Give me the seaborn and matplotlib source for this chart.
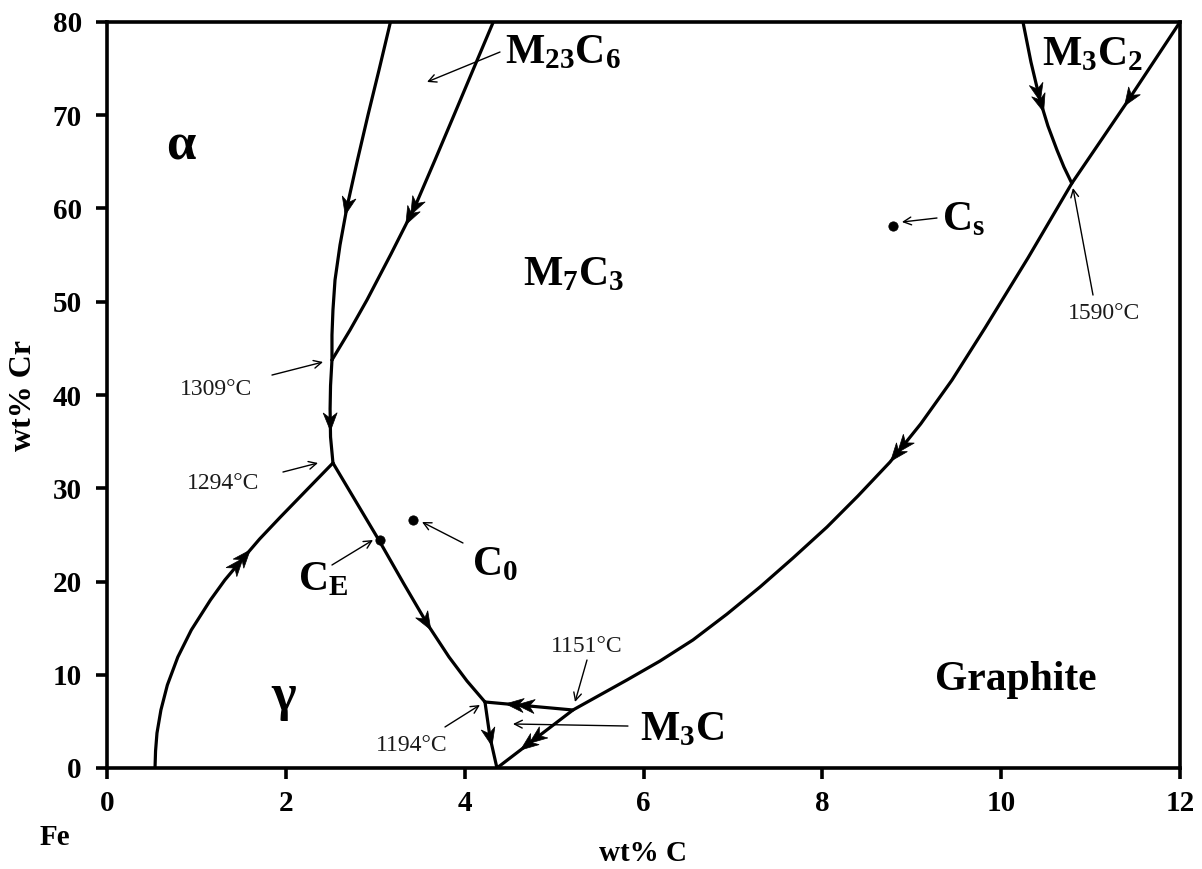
import numpy as np
import seaborn as sns
import matplotlib.pyplot as plt
from matplotlib.patches import Polygon

# Fe-Cr-C liquidus projection: monovariant valleys (wt% C, wt% Cr),
# each listed in the direction of falling temperature.
gamma_alpha_c = [0.537, 0.543, 0.559, 0.603, 0.675, 0.792, 0.943, 1.157, 1.318,
                 1.506, 1.707, 1.940, 2.255, 2.527]
gamma_alpha_cr = [0.0, 1.82, 3.75, 6.22, 8.90, 11.90, 14.80, 18.02, 20.16,
                  22.31, 24.56, 26.92, 30.03, 32.71]

alpha_m7_c = [2.516, 2.50, 2.495, 2.50, 2.527]
alpha_m7_cr = [43.75, 41.0, 38.5, 35.5, 32.71]

alpha_m23_c = [3.17, 3.042, 2.919, 2.796, 2.684, 2.606, 2.550, 2.527, 2.516, 2.516]
alpha_m23_cr = [80.0, 74.85, 70.03, 64.99, 60.16, 56.09, 52.33, 49.12, 46.43, 43.75]

m23_m7_c = [4.32, 4.093, 3.88, 3.668, 3.444, 3.176, 2.908, 2.718, 2.516]
m23_m7_cr = [80.0, 74.85, 70.0, 65.2, 60.2, 55.12, 50.2, 46.97, 43.75]

gamma_m7_c = [2.527, 3.04, 3.321, 3.590, 3.825, 4.026, 4.227]
gamma_m7_cr = [32.71, 24.45, 19.73, 15.33, 11.90, 9.33, 7.08]

m3c_m7_c = [5.211, 4.227]
m3c_m7_cr = [6.22, 7.08]

gamma_m3c_c = [4.227, 4.283, 4.361]
gamma_m3c_cr = [7.08, 3.32, 0.0]

graphite_c = [12.0, 11.40, 10.79, 10.30, 9.82, 9.45, 9.10, 8.756, 8.398, 8.052, 7.672,
              7.303, 6.934, 6.553, 6.184, 5.815, 5.513, 5.211, 4.361]
graphite_cr = [80.0, 71.3, 62.7, 54.7, 47.2, 41.6, 36.9, 32.8, 29.17, 25.84, 22.52,
               19.41, 16.51, 13.73, 11.47, 9.44, 7.83, 6.22, 0.0]

m3c2_m7_c = [10.244, 10.333, 10.434, 10.523, 10.624, 10.702, 10.79]
m3c2_m7_cr = [80.0, 75.71, 71.64, 68.85, 66.27, 64.45, 62.7]

# alloy compositions marked with dots
point_names = ["C_E", "C_0", "C_s"]
point_c = [3.05, 3.42, 8.79]
point_cr = [24.45, 26.6, 58.1]

# invariant temperatures
inv_labels = ["1309°C", "1294°C", "1194°C", "1151°C", "1590°C"]

x_ticks = [0, 2, 4, 6, 8, 10, 12]
y_ticks = [0, 10, 20, 30, 40, 50, 60, 70, 80]

sns.set_theme(style="white")
plt.rcParams["font.family"] = ["Liberation Serif", "DejaVu Serif"]
plt.rcParams["text.color"] = "black"
plt.rcParams["axes.labelcolor"] = "black"
plt.rcParams["mathtext.fontset"] = "custom"
plt.rcParams["mathtext.rm"] = "Liberation Serif:bold"
plt.rcParams["mathtext.it"] = "Liberation Serif:italic:bold"
plt.rcParams["mathtext.bf"] = "Liberation Serif:bold"

fig = plt.figure(figsize=(12.02, 8.69), dpi=100)
ax = fig.add_subplot(111)
fig.subplots_adjust(left=107 / 1202, right=1180 / 1202, bottom=(869 - 768) / 869, top=(869 - 22) / 869)
ax.set_xlim(0, 12)
ax.set_ylim(0, 80)

curves = [
    (gamma_alpha_c, gamma_alpha_cr, [(0.63, 2)]),
    (alpha_m7_c, alpha_m7_cr, [(0.60, 1)]),
    (alpha_m23_c, alpha_m23_cr, [(0.55, 1)]),
    (m23_m7_c, m23_m7_cr, [(0.55, 2)]),
    (gamma_m7_c, gamma_m7_cr, [(0.65, 1)]),
    (m3c_m7_c, m3c_m7_cr, [(0.60, 2)]),
    (gamma_m3c_c, gamma_m3c_cr, [(0.53, 1)]),
    (graphite_c, graphite_cr, [(0.089, 1), (0.498, 2), (0.957, 2)]),
    (m3c2_m7_c, m3c2_m7_cr, [(0.46, 2)]),
]


def arrowheads(ax, xs, ys, frac, n, length=18.0, width=14.0, gap=11.0):
    """Filled notched arrowheads sitting on a polyline, pointing along it."""
    pts = ax.transData.transform(np.column_stack([xs, ys]))
    seg = np.diff(pts, axis=0)
    seglen = np.hypot(seg[:, 0], seg[:, 1])
    cum = np.concatenate([[0.0], np.cumsum(seglen)])
    total = cum[-1]
    inv = ax.transData.inverted()
    for k in range(n):
        s = frac * total + (k - (n - 1) / 2.0) * gap
        i = int(np.clip(np.searchsorted(cum, s) - 1, 0, len(seglen) - 1))
        t = (s - cum[i]) / seglen[i]
        p = pts[i] + t * seg[i]
        d = seg[i] / seglen[i]
        nrm = np.array([-d[1], d[0]])
        tip = p + d * length / 2
        back = p - d * length / 2
        verts = np.array([tip,
                          back + nrm * width / 2,
                          back + d * length * 0.3,
                          back - nrm * width / 2])
        ax.add_patch(Polygon(inv.transform(verts), closed=True,
                             facecolor="black", edgecolor="black", lw=0.5, zorder=4))


for xs, ys, arrows in curves:
    sns.lineplot(x=xs, y=ys, sort=False, estimator=None, color="black",
                 lw=2.3, ax=ax, legend=False)
    for frac, n in arrows:
        arrowheads(ax, xs, ys, frac, n)

sns.scatterplot(x=point_c, y=point_cr, color="black", s=45, edgecolor="black",
                ax=ax, legend=False, zorder=5)

# axes frame, ticks and labels
for side in ["left", "right", "top", "bottom"]:
    ax.spines[side].set_visible(True)
    ax.spines[side].set_color("black")
    ax.spines[side].set_linewidth(2.6)
ax.set_xticks(x_ticks)
ax.set_yticks(y_ticks)
ax.tick_params(axis="both", which="both", direction="out", length=8, width=2.6,
               color="black", labelsize=21, labelcolor="black",
               bottom=True, left=True, top=False, right=False)
ax.tick_params(axis="x", pad=8)
ax.tick_params(axis="y", pad=10)
for lab in ax.get_xticklabels() + ax.get_yticklabels():
    lab.set_fontweight("bold")
ax.grid(False)

ax.set_xlabel("wt% C", fontsize=21, fontweight="bold")
ax.set_ylabel("wt% Cr", fontsize=23, fontweight="bold")
ax.xaxis.set_label_coords(0.4995, -0.097)
ax.yaxis.set_label_coords(-0.064, 0.5)
ax.text(-0.0485, -0.0925, "Fe", transform=ax.transAxes, fontsize=21,
        fontweight="bold", ha="center", va="center")

# phase-field labels
big = dict(fontsize=30, fontweight="bold")
ax.text(0.82, 66.6, "α", ha="center", va="center", fontsize=38, fontweight="bold")
ax.text(1.97, 7.6, "γ", ha="center", va="center", fontsize=38, fontweight="bold")
ax.text(4.45, 75.6, r"M$_{\mathrm{23}}$C$_{\mathrm{6}}$", ha="left", va="baseline", **big)
ax.text(4.652, 51.8, r"M$_{\mathrm{7}}$C$_{\mathrm{3}}$", ha="left", va="baseline", **big)
ax.text(10.455, 75.4, r"M$_{\mathrm{3}}$C$_{\mathrm{2}}$", ha="left", va="baseline", **big)
ax.text(5.961, 3.0, r"M$_{\mathrm{3}}$C", ha="left", va="baseline", **big)
ax.text(10.165, 8.36, "Graphite", ha="center", va="baseline", **big)

# composition labels
ax.text(2.136, 19.09, r"C$_{\mathrm{E}}$", ha="left", va="baseline", **big)
ax.text(4.082, 20.7, r"C$_{\mathrm{0}}$", ha="left", va="baseline", **big)
ax.text(9.338, 57.7, r"C$_{\mathrm{s}}$", ha="left", va="baseline", **big)

# invariant temperatures
temp_pos = [(1.219, 40.54), (1.297, 30.56), (3.411, 2.36), (5.368, 12.98), (11.15, 48.79)]
for lab, (tx, ty) in zip(inv_labels, temp_pos):
    ax.text(tx, ty, lab, ha="center", va="center", fontsize=17, color="#1a1a1a")

# leader arrows
leaders = [
    ((4.395, 76.78), (3.579, 73.57)),
    ((9.282, 58.98), (8.890, 58.55)),
    ((11.027, 50.72), (10.803, 62.20)),
    ((1.845, 42.14), (2.416, 43.54)),
    ((1.968, 31.74), (2.360, 32.71)),
    ((2.516, 21.77), (2.975, 24.45)),
    ((3.981, 24.13), (3.523, 26.38)),
    ((5.368, 11.58), (5.234, 7.08)),
    ((3.780, 4.40), (4.171, 6.76)),
    ((5.826, 4.50), (4.540, 4.72)),
]
for start, end in leaders:
    ax.annotate("", xy=end, xytext=start,
                arrowprops=dict(arrowstyle="->", lw=1.0, color="black",
                                mutation_scale=14, shrinkA=0, shrinkB=0))

fig.savefig("out.png", dpi=100, facecolor="white")
